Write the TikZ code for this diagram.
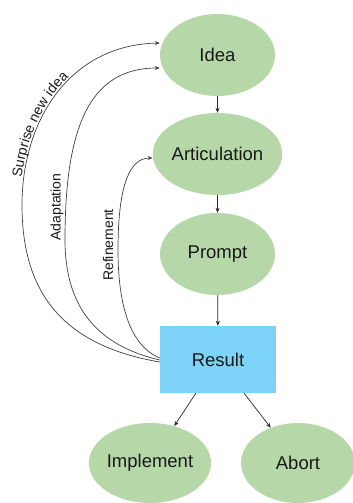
\documentclass[tikz,border=0pt]{standalone}
\usepackage{fontspec}
\setmainfont{Liberation Sans}
\usetikzlibrary{arrows.meta,shapes.geometric,decorations.text}
\definecolor{nodegreen}{RGB}{182,215,168}
\definecolor{resblue}{RGB}{125,211,247}
\definecolor{txt}{RGB}{25,25,25}
\newcommand\lblfont{\fontsize{14}{16}\selectfont}
\tikzset{
  stateell/.style={ellipse, fill=nodegreen, minimum width=115pt, minimum height=82pt, inner sep=0pt, text=txt, font=\fontsize{18.5}{20}\selectfont},
  resbox/.style={rectangle, fill=resblue, minimum width=116pt, minimum height=67pt, inner sep=0pt, text=txt, font=\fontsize{18.5}{20}\selectfont},
  conn/.style={draw=black!85, line width=0.7pt, -{Stealth[length=5pt,width=4pt]}},
  loopconn/.style={draw=black!75, line width=0.7pt, -{Stealth[length=5pt,width=4pt]}},
  lbl/.style={text=txt, font=\lblfont, inner sep=0pt}
}
\begin{document}
\begin{tikzpicture}[x=1pt,y=-1pt]
\useasboundingbox (0,0) rectangle (353,503);
\clip (0,0) rectangle (353,503);
\node[stateell] (idea) at (217.5,55) {Idea};
\node[stateell] (artic) at (217.5,154) {Articulation};
\node[stateell] (prompt) at (217.5,254) {Prompt};
\node[resbox] (result) at (218,359.5) {Result};
\node[stateell, minimum width=114pt, minimum height=80pt] (impl) at (150,463) {Implement};
\node[stateell, minimum width=114pt, minimum height=80pt] (abort) at (298,463) {Abort};

\draw[conn] (idea) -- (artic);
\draw[conn] (artic) -- (prompt);
\draw[conn] (prompt) -- (result);
\draw[conn] (result) -- (impl);
\draw[conn] (result) -- (abort);

\coordinate (sS) at ([yshift=-2.5pt]result.west);
\coordinate (sA) at ([yshift=-0.5pt]result.west);
\coordinate (sR) at ([yshift=1.5pt]result.west);
\coordinate (eS) at ([yshift=12pt]idea.west);
\coordinate (eA) at ([yshift=-13pt]idea.west);
\coordinate (eR) at ([yshift=-4pt]artic.west);
\coordinate (mS) at (22,205);

\draw[loopconn] (sS) .. controls (60,345) and (22,290) .. (mS)
  .. controls (22,120) and (70,45) .. (eS);
\draw[loopconn] (sA) .. controls (95,345) and (65,305) .. (65,240)
  .. controls (65,130) and (88,68) .. (eA);
\draw[loopconn] (sR) .. controls (128,345) and (118,300) .. (118,250)
  .. controls (118,190) and (128,158) .. (eR);

\path[decorate, decoration={text along path, raise=2pt,
    text align={left indent=27pt},
    text={|\lblfont\color{txt}|Surprise new idea}}]
  (mS) .. controls (22,120) and (70,45) .. (eS);
\node[lbl, rotate=90] (lA) at (57,207) {Adaptation};
\node[lbl, rotate=90] (lR) at (108,245) {Refinement};
\end{tikzpicture}
\end{document}
